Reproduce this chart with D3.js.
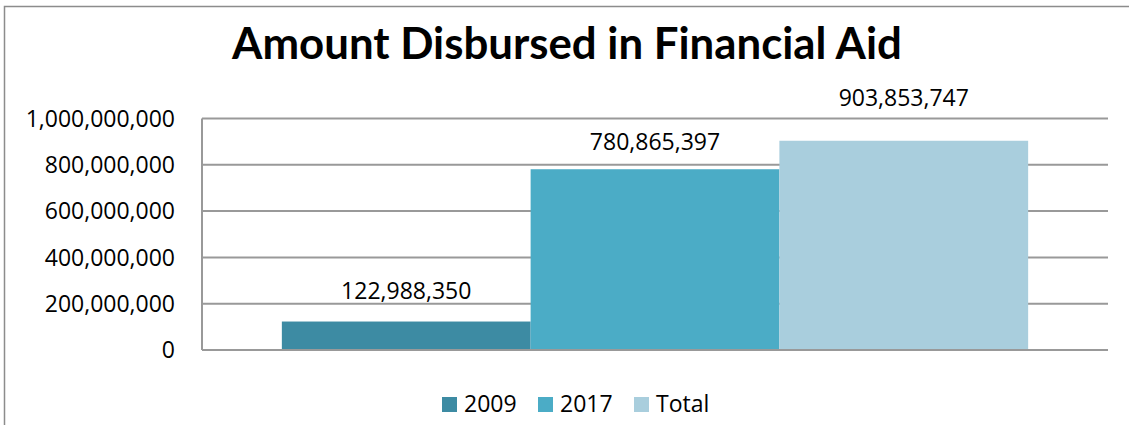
<!DOCTYPE html>
<html>
<head>
<meta charset="utf-8">
<script src="https://cdn.jsdelivr.net/npm/d3@7"></script>
<style>
  body { margin: 0; background: #fff; }
  text { font-family: "Open Sans", sans-serif; fill: #000; }
  .title { font-family: Lato, sans-serif; }
</style>
</head>
<body>
<svg id="chart" width="1129" height="425"></svg>
<script>
// Amount Disbursed in Financial Aid - clustered column, one category, three series

const categories = [""];
const series = ["2009", "2017", "Total"];
const values = [122988350, 780865397, 903853747];
const yTicks = [0, 200000000, 400000000, 600000000, 800000000, 1000000000];
const colors = ["#3d8ba3", "#4bacc6", "#a9cedd"];
// how far each data label sits above its bar (px)
const labelLift = [23, 19, 35];

const svg = d3.select('#chart');
const width = +svg.attr('width');
const height = +svg.attr('height');

const plot = { left: 202, right: 1108, top: 118.5, bottom: 350 };

// outer frame (runs past the window on the right and bottom)
svg.append('rect')
    .attr('x', 4.5)
    .attr('y', 6.5)
    .attr('width', 1200)
    .attr('height', 600)
    .attr('fill', 'none')
    .attr('stroke', '#8c8c8c')
    .attr('stroke-width', 1.5);

// title, fitted to the width seen in the reference
const title = svg.append('text')
    .attr('class', 'title')
    .attr('x', 567)
    .attr('y', 59)
    .attr('text-anchor', 'middle')
    .attr('font-weight', 'bold')
    .attr('font-size', 40)
    .text('Amount Disbursed in Financial Aid');
const tw = title.node().getComputedTextLength();
title.attr('font-size', 40 * 670 / tw);

const y = d3.scaleLinear()
    .domain([0, 1000000000])
    .range([plot.bottom, plot.top]);

const x0 = d3.scaleBand()
    .domain(categories)
    .range([plot.left, plot.right])
    .paddingInner(0)
    .paddingOuter(0.107);

const x1 = d3.scaleBand()
    .domain(series)
    .range([0, x0.bandwidth()])
    .padding(0);

// gridlines
svg.selectAll('.grid')
    .data(yTicks)
    .enter()
    .append('line')
    .attr('class', 'grid')
    .attr('x1', plot.left)
    .attr('x2', plot.right)
    .attr('y1', d => y(d))
    .attr('y2', d => y(d))
    .attr('stroke', '#999')
    .attr('stroke-width', 2);

// tick labels
svg.selectAll('.tick-label')
    .data(yTicks)
    .enter()
    .append('text')
    .attr('class', 'tick-label')
    .attr('x', 175)
    .attr('y', d => y(d))
    .attr('dy', '0.36em')
    .attr('text-anchor', 'end')
    .attr('font-size', 23)
    .text(d => d3.format(',')(d));

const rows = series.map((s, i) => ({ s, v: values[i], c: colors[i], lift: labelLift[i] }));

// bars
svg.selectAll('.bar')
    .data(rows)
    .enter()
    .append('rect')
    .attr('class', 'bar')
    .attr('x', d => x0(categories[0]) + x1(d.s))
    .attr('y', d => y(d.v))
    .attr('width', x1.bandwidth())
    .attr('height', d => y(0) - y(d.v))
    .attr('fill', d => d.c);

// value axis line and category axis line
svg.append('line')
    .attr('x1', plot.left).attr('x2', plot.left)
    .attr('y1', plot.top).attr('y2', plot.bottom)
    .attr('stroke', '#999').attr('stroke-width', 2);
svg.append('line')
    .attr('x1', plot.left).attr('x2', plot.right)
    .attr('y1', y(0)).attr('y2', y(0))
    .attr('stroke', '#999').attr('stroke-width', 2);

// data labels
svg.selectAll('.value-label')
    .data(rows)
    .enter()
    .append('text')
    .attr('class', 'value-label')
    .attr('x', d => x0(categories[0]) + x1(d.s) + x1.bandwidth() / 2)
    .attr('y', d => y(d.v) - d.lift)
    .attr('text-anchor', 'middle')
    .attr('font-size', 23)
    .text(d => d3.format(',')(d.v));

// legend
const legend = svg.selectAll('.legend')
    .data(rows)
    .enter()
    .append('g')
    .attr('class', 'legend')
    .attr('transform', (d, i) => `translate(${442 + i * 96},397)`);
legend.append('rect')
    .attr('width', 15)
    .attr('height', 15)
    .attr('fill', d => d.c);
legend.append('text')
    .attr('x', 22)
    .attr('y', 15)
    .attr('font-size', 23)
    .text(d => d.s);
</script>
</body>
</html>
